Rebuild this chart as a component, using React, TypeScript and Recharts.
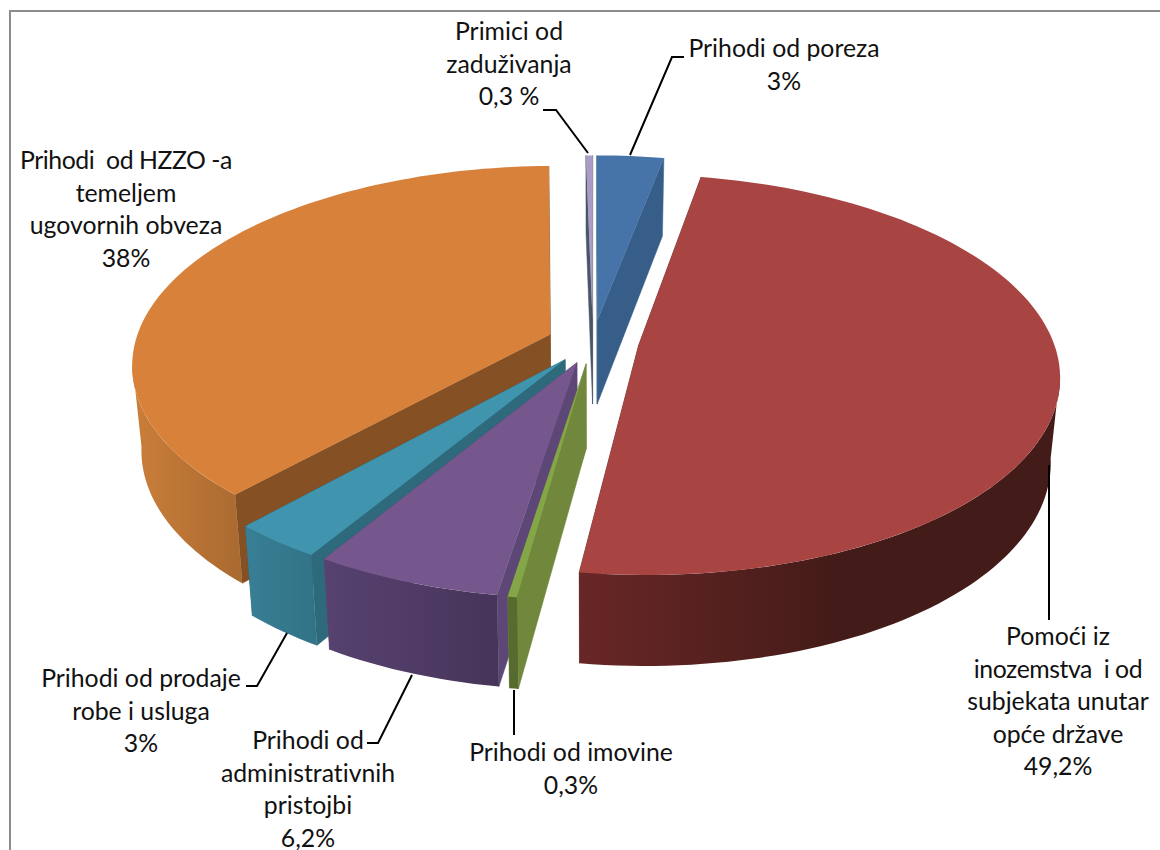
import React from "react";
import { PieChart, Pie } from "recharts";

// Listed counter-clockwise from 12 o'clock, so slices paint back to front.
const sliceNames = [
  "Primici od zaduživanja",
  "Prihodi od HZZO-a temeljem ugovornih obveza",
  "Prihodi od prodaje robe i usluga",
  "Prihodi od administrativnih pristojbi",
  "Prihodi od imovine",
  "Pomoći iz inozemstva i od subjekata unutar opće države",
  "Prihodi od poreza",
];
const sliceValues = [0.3, 38, 3, 6.2, 0.3, 49.2, 3];
const labelTexts = [
  ["Primici od", "zaduživanja", "0,3 %"],
  ["Prihodi  od HZZO -a", "temeljem", "ugovornih obveza", "38%"],
  ["Prihodi od prodaje", "robe i usluga", "3%"],
  ["Prihodi od", "administrativnih", "pristojbi", "6,2%"],
  ["Prihodi od imovine", "0,3%"],
  ["Pomoći iz", "inozemstva  i od", "subjekata unutar", "opće države", "49,2%"],
  ["Prihodi od poreza", "3%"],
];

const chartData = sliceNames.map((name, i) => ({ name, value: sliceValues[i] }));

// Styling per slice: top face, cut wall, outer wall left colour, right colour, ramp span
const sliceStyles = [
  { top: "#A99CC6", cut: "#4B5568", a: "#4B5568", b: "#4B5568", span: 1 },
  { top: "#D7813B", cut: "#855023", a: "#CB7E3A", b: "#A96A30", span: 1 },
  { top: "#4094AE", cut: "#2E6A7C", a: "#387F95", b: "#317386", span: 1 },
  { top: "#75578D", cut: "#5C4776", a: "#574270", b: "#473459", span: 1 },
  { top: "#84A548", cut: "#71873C", a: "#576B2F", b: "#576B2F", span: 1 },
  { top: "#A84442", cut: "#5E2422", a: "#682726", b: "#431B18", span: 0.55 },
  { top: "#4673A8", cut: "#375E88", a: "#375E88", b: "#375E88", span: 1 },
];

// Label layout: centre x, first line centre y, leader polyline
const labelLayout = [
  { x: 509, y: 32, leader: "543,110 556,110 588,153" },
  { x: 126, y: 161, leader: "" },
  { x: 141, y: 679, leader: "246,686 257,686 287,633" },
  { x: 308, y: 741, leader: "367,743 378,743 412,675" },
  { x: 571, y: 753, leader: "514,690 514,735" },
  { x: 1058, y: 637, leader: "1049,465 1049,620" },
  { x: 784, y: 49, leader: "684,57 672,57 630,155" },
];

const CX = 593;
const CY = 342;
const RADIUS = 415;
const EXPLODE = 46;
const TILT = 0.47;
const PERSPECTIVE = 0.145;
const DEPTH = 84;
const BOTTOM_SHRINK = 0.98;
const LINE_HEIGHT = 32.5;
// The outer wall only shows between the two silhouette angles of the ellipse.
const WALL_FROM = 188;
const WALL_TO = 352;

const rad = (d: number) => (d * Math.PI) / 180;

function project(cx: number, cy: number, r: number, wx: number, wy: number, bottom: boolean) {
  const s = 1 / (1 - (PERSPECTIVE * wy) / r);
  const x = cx + wx * s * (bottom ? BOTTOM_SHRINK : 1);
  const y = cy + TILT * wy * s + (bottom ? DEPTH * Math.sqrt(s) : 0);
  return [x, y];
}

const pts = (list: number[][]) => list.map((p) => `${p[0].toFixed(2)},${p[1].toFixed(2)}`).join(" ");

function sweep(from: number, to: number) {
  const steps = Math.max(2, Math.ceil((to - from) / 1.5));
  const out: number[] = [];
  for (let i = 0; i <= steps; i++) out.push(from + ((to - from) * i) / steps);
  return out;
}

function Slice3D(props: any) {
  const { cx, cy, outerRadius: r, startAngle, endAngle, index } = props;
  const st = sliceStyles[index] ?? sliceStyles[0];
  const mid = rad((startAngle + endAngle) / 2);
  const ox = EXPLODE * Math.cos(mid);
  const oy = -EXPLODE * Math.sin(mid);
  const at = (deg: number, rr: number, bottom: boolean) =>
    project(cx, cy, r, ox + rr * Math.cos(rad(deg)), oy - rr * Math.sin(rad(deg)), bottom);

  const apexT = at(0, 0, false);
  const apexB = at(0, 0, true);
  const cutWall = (deg: number) => [apexT, at(deg, r, false), at(deg, r, true), apexB];
  const topArc = sweep(startAngle, endAngle).map((d) => at(d, r, false));

  const wallStart = Math.max(startAngle, WALL_FROM);
  const wallEnd = Math.min(endAngle, WALL_TO);
  const hasWall = wallEnd > wallStart;
  const wallAngles = hasWall ? sweep(wallStart, wallEnd) : [];
  const wallTop = wallAngles.map((d) => at(d, r, false));
  const wallBottom = wallAngles.map((d) => at(d, r, true));
  const wall = [...wallTop, ...[...wallBottom].reverse()];
  const xs = wall.map((p) => p[0]);
  const gradId = `wall-${index}`;

  return (
    <g>
      <polygon points={pts(cutWall(startAngle))} fill={st.cut} stroke={st.cut} strokeWidth={0.5} />
      <polygon points={pts(cutWall(endAngle))} fill={st.cut} stroke={st.cut} strokeWidth={0.5} />
      {hasWall && (
        <>
          <defs>
            <linearGradient id={gradId} gradientUnits="userSpaceOnUse" x1={Math.min(...xs)} x2={Math.max(...xs)} y1={0} y2={0}>
              <stop offset={0} stopColor={st.a} />
              <stop offset={st.span} stopColor={st.b} />
            </linearGradient>
          </defs>
          <polygon points={pts(wall)} fill={`url(#${gradId})`} />
        </>
      )}
      <polygon points={pts([apexT, ...topArc])} fill={st.top} />
    </g>
  );
}

function SliceLabel(props: any) {
  const { index } = props;
  const lay = labelLayout[index];
  const lines = labelTexts[index];
  return (
    <g>
      {lay.leader && <polyline points={lay.leader} fill="none" stroke="#000" strokeWidth={2} />}
      {lines.map((ln, i) => (
        <text
          key={i}
          x={lay.x}
          y={lay.y + i * LINE_HEIGHT + 8}
          textAnchor="middle"
          fontFamily="Lato, sans-serif"
          fontSize={24.8}
          fill="#111"
          style={{
            whiteSpace: "pre",
            fontVariantLigatures: "none",
            letterSpacing: ln.includes("  ") ? "-0.45px" : undefined,
          }}
        >
          {ln}
        </text>
      ))}
    </g>
  );
}

export default function App() {
  return (
    <div style={{ position: "absolute", left: 0, top: 0, width: 1160, height: 850, overflow: "hidden", background: "#fff" }}>
      <div
        style={{
          position: "absolute",
          left: 9,
          top: 10,
          width: 1160,
          height: 850,
          borderLeft: "2px solid #8c8c8c",
          borderTop: "2px solid #8c8c8c",
        }}
      />
      <div style={{ position: "absolute", left: 0, top: 0 }}>
        <PieChart width={1160} height={850} margin={{ top: 0, right: 0, bottom: 0, left: 0 }}>
          <Pie
            data={chartData}
            dataKey="value"
            nameKey="name"
            cx={CX}
            cy={CY}
            innerRadius={0}
            outerRadius={RADIUS}
            startAngle={90}
            endAngle={450}
            paddingAngle={0}
            isAnimationActive={false}
            shape={Slice3D}
            label={SliceLabel}
            labelLine={false}
          />
        </PieChart>
      </div>
    </div>
  );
}
